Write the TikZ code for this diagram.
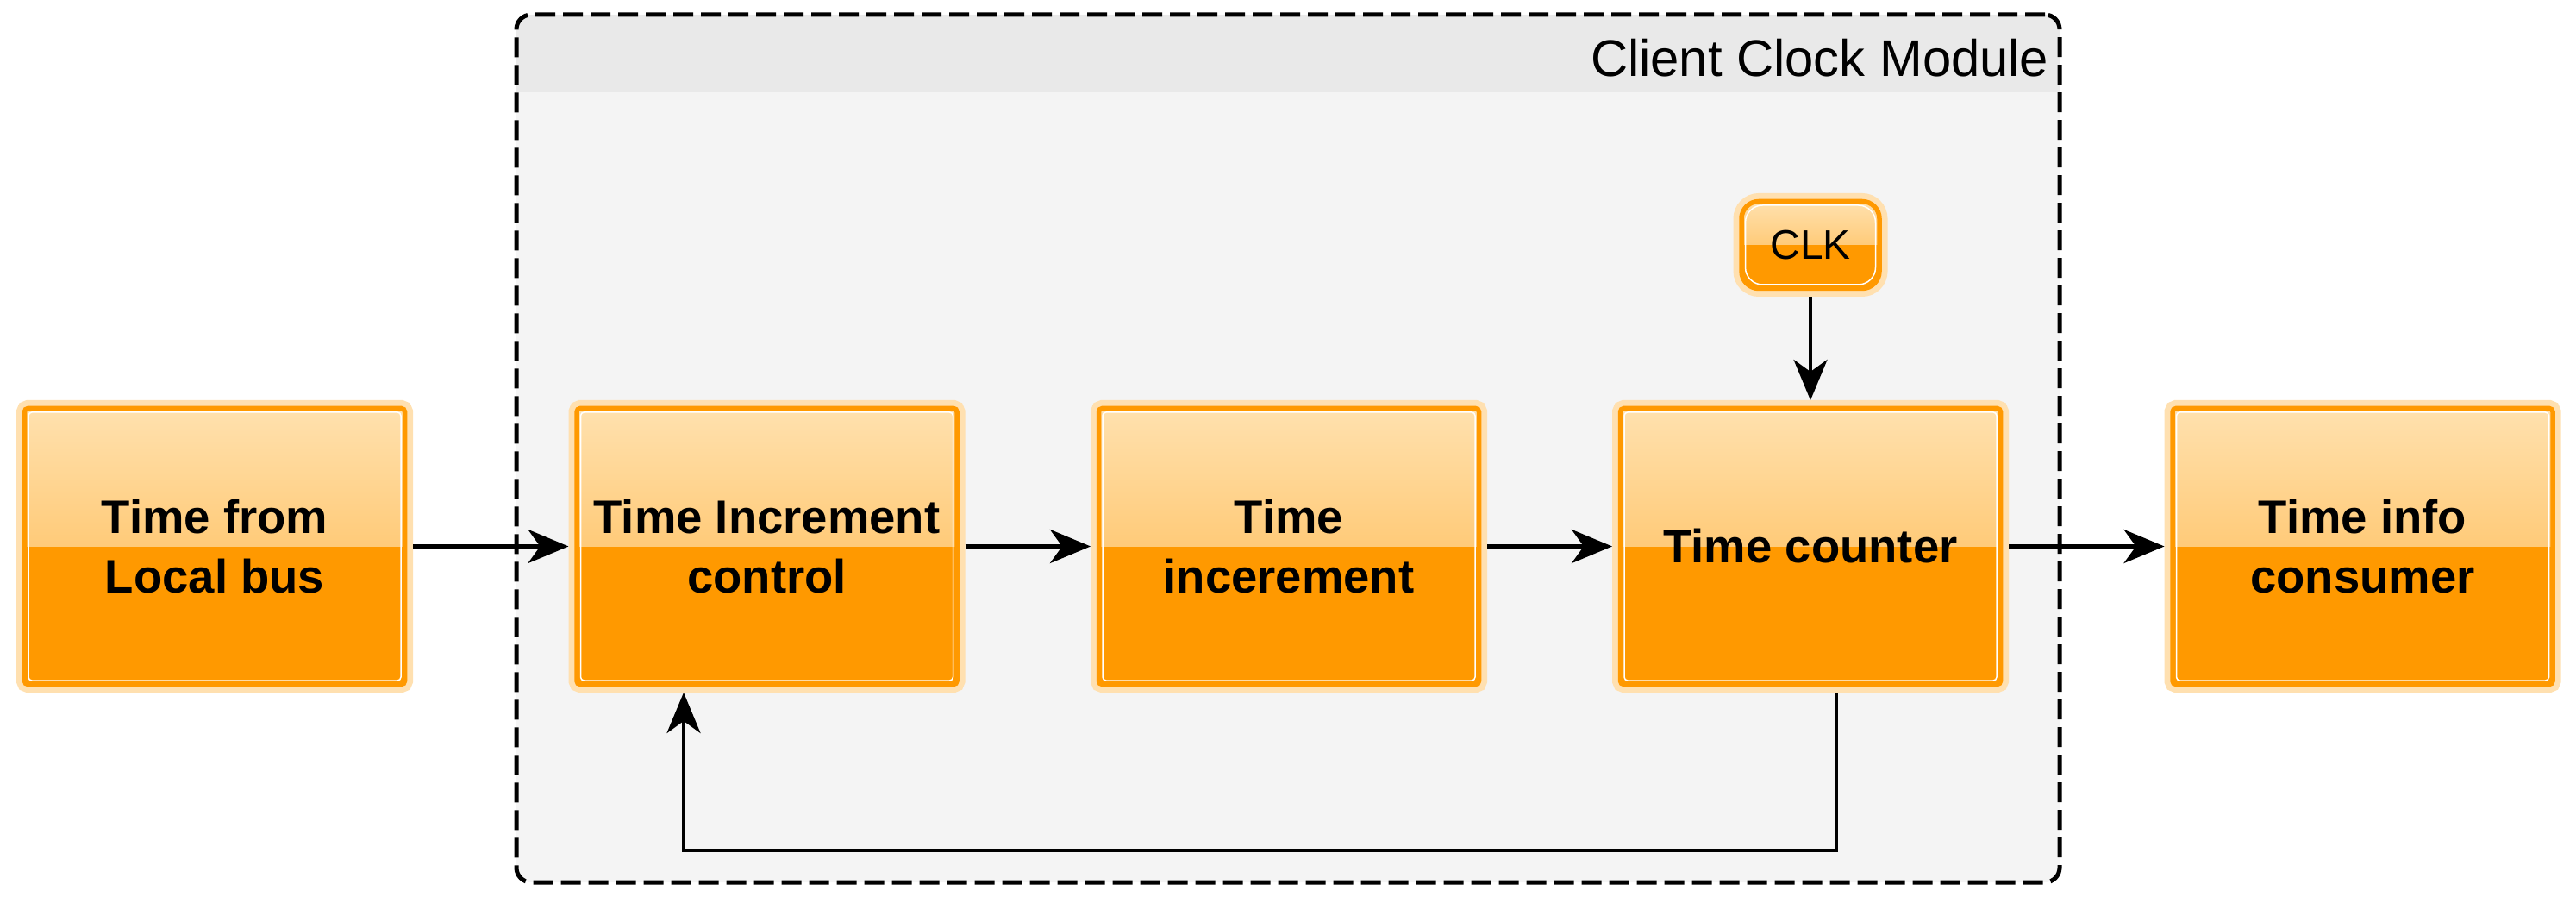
\documentclass[tikz,border=0pt]{standalone}
\usepackage{fontspec}
\setmainfont{Liberation Sans}
\usepackage{xcolor}
\usepackage{tikz}
\usetikzlibrary{arrows.meta,positioning,calc}
\definecolor{glassorange}{HTML}{FF9900}
\definecolor{glassglow}{HTML}{FFE0B0}
\definecolor{glasstop}{HTML}{FFE1AE}
\definecolor{glassmid}{HTML}{FFB444}
\definecolor{modbody}{HTML}{F4F4F4}
\definecolor{modhead}{HTML}{E9E9E9}

\begin{document}
\begin{tikzpicture}[
		glass/.style={rectangle,draw=glassorange,fill=glassorange,line width=0.055cm,outer sep=0.095cm,inner sep=0pt,
			preaction={draw=glassglow,line width=0.19cm},
			path picture={
				\shade[sharp corners,top color=glasstop,bottom color=glassmid] (path picture bounding box.north west) rectangle (path picture bounding box.east);
				\draw[white,line width=0.015cm] ([shift={(0.045,-0.045)}]path picture bounding box.north west) rectangle ([shift={(-0.045,0.045)}]path picture bounding box.south east);
			}},
		block/.style={glass,rounded corners=0.04cm,minimum width=4.41cm,minimum height=3.20cm,align=center,font=\fontsize{15.5}{19.6}\selectfont\bfseries},
		clock/.style={glass,rounded corners=0.2cm,minimum width=1.60cm,minimum height=1.01cm,font=\fontsize{13.6}{16}\selectfont},
		modbox/.style={rectangle,draw,line width=0.05cm,dash pattern=on 0.23cm off 0.09cm,rounded corners=0.17cm,fill=modbody,outer sep=0pt,
			minimum width=17.90cm,minimum height=10.06cm,
			path picture={\fill[modhead,sharp corners] (path picture bounding box.north west) rectangle ([yshift=-0.90cm]path picture bounding box.north east);}},
		arr/.style={line width=0.045cm,-{Stealth[length=0.47cm,width=0.39cm,inset=0.14cm]}}
	]
	\useasboundingbox (0,0) rectangle (29.88,-10.40);
	\node[modbox] (module) at (14.94,-5.20) {};
	\node[anchor=east,inner sep=0pt,font=\fontsize{17}{20}\selectfont] (title) at ([xshift=-0.12cm,yshift=-0.50cm]module.north east) {Client Clock Module};
	
	\node[block] (b1) at (2.49,-6.335) {Time from\\Local bus};
	\node[block] (b2) at (8.895,-6.335) {Time Increment\\control};
	\node[block] (b3) at (14.95,-6.335) {Time\\incerement};
	\node[block] (b4) at (21.00,-6.335) {Time counter};
	\node[block] (b5) at (27.405,-6.335) {Time info\\consumer};
	\node[clock] (clk) at (21.00,-2.84) {CLK};
	
	\draw[arr] (b1) -- (b2);
	\draw[arr] (b2) -- (b3);
	\draw[arr] (b3) -- (b4);
	\draw[arr] (b4) -- (b5);
	\draw[arr] (clk) -- (b4);
	\draw[arr] ([xshift=0.30cm]b4.south) -- ++(0,-1.83) -| ([xshift=-0.965cm]b2.south);
\end{tikzpicture}
\end{document}
